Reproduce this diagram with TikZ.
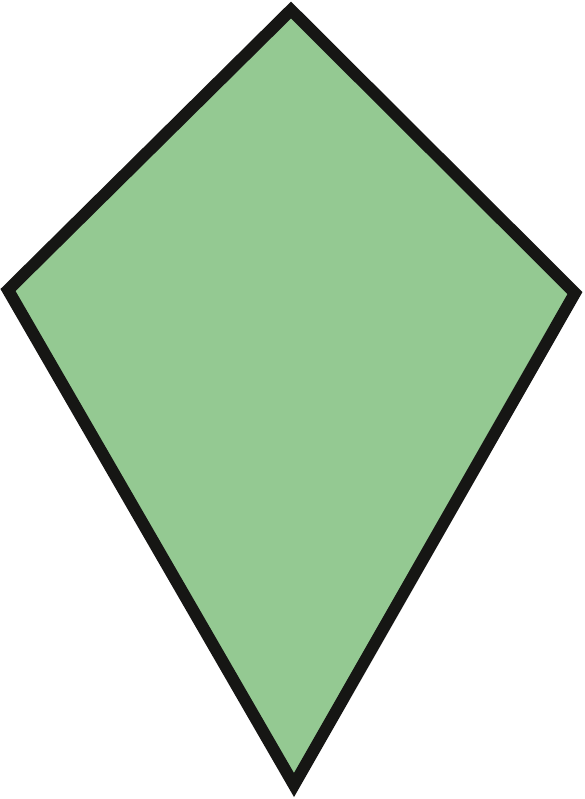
\documentclass[tikz,border=0pt]{standalone}
\usepackage{xcolor}
\usepackage{tikz}
\definecolor{kitegreen}{RGB}{148,201,146}
\definecolor{kiteedge}{RGB}{22,22,20}

\begin{document}
\begin{tikzpicture}[x=0.02cm,y=-0.02cm]
\useasboundingbox (0,0) rectangle (585,799);
\coordinate (top) at (291,10);
\coordinate (left) at (8,290);
\coordinate (right) at (575,293);
\coordinate (bottom) at (294,785);
\draw[kiteedge,fill=kitegreen,line width=12*0.02cm,line join=miter]
  (top) -- (right) -- (bottom) -- (left) -- cycle;
\end{tikzpicture}
\end{document}
